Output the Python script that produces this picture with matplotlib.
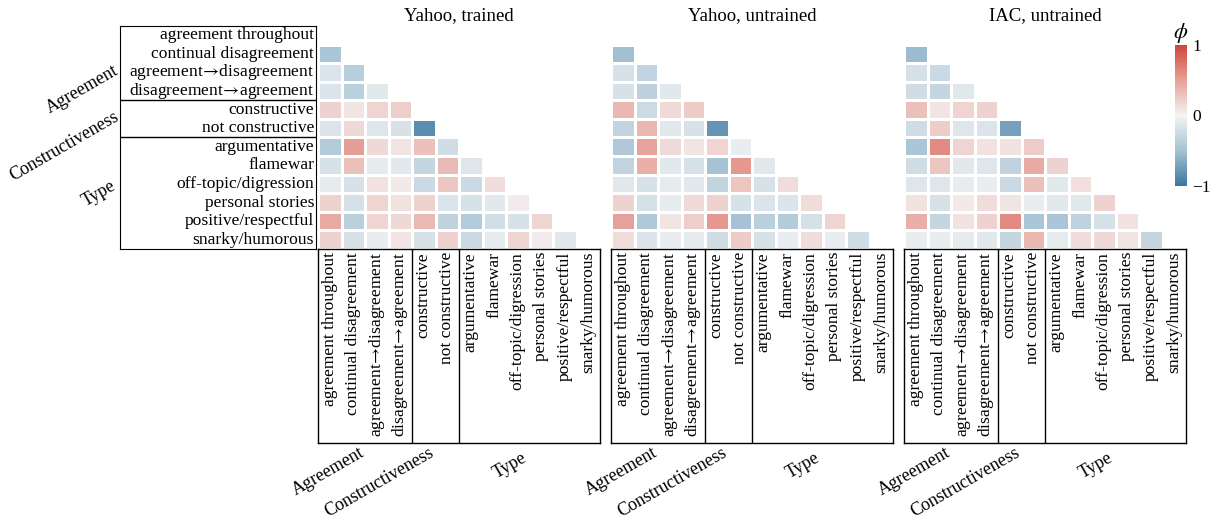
import numpy as np
import matplotlib
matplotlib.use('Agg')
import matplotlib.pyplot as plt
from matplotlib.colors import LinearSegmentedColormap

plt.rcParams['font.family'] = ['Liberation Serif', 'DejaVu Serif']
plt.rcParams['mathtext.fontset'] = 'stix'

arrow = r'$\!\rightarrow\!$'
labels = ['agreement throughout', 'continual disagreement',
          'agreement' + arrow + 'disagreement', 'disagreement' + arrow + 'agreement',
          'constructive', 'not constructive',
          'argumentative', 'flamewar', 'off-topic/digression',
          'personal stories', 'positive/respectful', 'snarky/humorous']
groups = ['Agreement', 'Constructiveness', 'Type']
group_breaks = [4, 6]
titles = ['Yahoo, trained', 'Yahoo, untrained', 'IAC, untrained']

# lower triangle rows (row i has i values), phi coefficients
yahoo_trained = [
    [-0.47],
    [-0.16, -0.38],
    [-0.16, -0.36, -0.11],
    [0.20, 0.09, 0.18, 0.22],
    [-0.16, 0.16, -0.14, -0.19, -0.85],
    [-0.41, 0.51, 0.16, 0.09, 0.30, -0.23],
    [-0.19, 0.30, -0.09, -0.11, -0.30, 0.34, -0.14],
    [-0.09, -0.18, 0.11, 0.07, -0.27, 0.27, -0.27, 0.14],
    [0.20, -0.20, 0.18, 0.11, 0.20, -0.16, -0.19, -0.11, 0.05],
    [0.43, -0.36, 0.18, 0.16, 0.35, -0.34, -0.41, -0.22, -0.18, 0.18],
    [0.20, -0.20, -0.07, 0.09, -0.18, 0.20, -0.27, -0.09, 0.18, 0.05, -0.11],
]
yahoo_untrained = [
    [-0.51],
    [-0.18, -0.32],
    [-0.18, -0.35, -0.11],
    [0.36, -0.26, 0.15, 0.24],
    [-0.32, 0.36, -0.11, -0.19, -0.80],
    [-0.43, 0.47, 0.15, 0.09, 0.19, -0.07],
    [-0.32, 0.41, -0.11, -0.19, -0.50, 0.54, -0.11],
    [-0.12, -0.19, -0.09, -0.11, -0.32, 0.27, -0.19, 0.14],
    [0.20, -0.20, -0.09, 0.15, 0.20, -0.18, -0.16, -0.16, 0.14],
    [0.49, -0.43, 0.09, 0.22, 0.54, -0.50, -0.36, -0.41, -0.20, 0.18],
    [0.14, -0.16, -0.07, -0.09, -0.23, 0.24, -0.19, -0.07, 0.14, -0.07, -0.23],
]
iac_untrained = [
    [-0.54],
    [-0.20, -0.27],
    [-0.23, -0.30, -0.12],
    [0.31, 0.09, 0.19, 0.20],
    [-0.24, 0.23, -0.14, -0.16, -0.72],
    [-0.47, 0.61, 0.18, 0.11, 0.11, 0.23],
    [-0.23, 0.27, -0.11, -0.14, -0.34, 0.43, 0.20],
    [-0.14, -0.14, -0.08, -0.07, -0.27, 0.31, -0.11, 0.12],
    [0.11, -0.18, 0.07, 0.14, 0.09, -0.07, -0.12, -0.12, 0.20],
    [0.41, -0.30, 0.11, 0.20, 0.61, -0.47, -0.47, -0.34, -0.20, 0.11],
    [-0.07, -0.07, -0.09, -0.11, -0.30, 0.36, -0.09, 0.14, 0.16, 0.09, -0.30],
]
panels = [yahoo_trained, yahoo_untrained, iac_untrained]


def to_matrix(rows, n):
    m = np.full((n, n), np.nan)
    for i, r in enumerate(rows, start=1):
        m[i, :len(r)] = r
    return np.ma.masked_invalid(m)


W, H = 1214, 519
n = len(labels)
cmap = LinearSegmentedColormap.from_list(
    'phi', ['#3b76a0', '#a6c2d4', '#f4f4f4', '#e6a098', '#cf4639'])

fig = plt.figure(figsize=(W / 100, H / 100), dpi=100)

def fx(px):
    return px / W

def fy(py):
    return 1 - py / H

top, bot = 26, 249
box_bot = 443
lefts = [318, 611, 904]
pw = 282
fs = 12.6

for k, (data, title) in enumerate(zip(panels, titles)):
    m = to_matrix(data, n)
    ax = fig.add_axes([fx(lefts[k]), fy(bot), fx(pw), (bot - top) / H])
    mesh = ax.pcolormesh(np.arange(n + 1), np.arange(n + 1), m, cmap=cmap,
                         vmin=-1, vmax=1, edgecolors='white', linewidth=1)
    ax.set_xlim(0, n)
    ax.set_ylim(n, 0)
    ax.set_xticks([])
    ax.set_yticks([])
    for s in ax.spines.values():
        s.set_visible(False)
    ax.set_title(title, fontsize=13.5, pad=4)

    # bottom label box
    axb = fig.add_axes([fx(lefts[k]), fy(box_bot), fx(pw), (box_bot - bot) / H])
    axb.set_xlim(0, n)
    axb.set_ylim(0, 1)
    axb.set_xticks([])
    axb.set_yticks([])
    for s in axb.spines.values():
        s.set_linewidth(1)
    for j, lab in enumerate(labels):
        axb.text(j + 0.5, 0.985, lab, rotation=90, ha='center', va='top', fontsize=fs)
    for g in group_breaks:
        axb.axvline(g, color='black', linewidth=1)
    # group names under the box
    gx = [(lefts[k] + 10, 472), (lefts[k] + 61, 482), (lefts[k] + 192, 466)]
    for (x, y), g in zip(gx, groups):
        fig.text(fx(x), fy(y), g, rotation=30, ha='center', va='center', fontsize=13)

# left label box
axl = fig.add_axes([fx(120), fy(bot), fx(196), (bot - top) / H])
axl.set_xlim(0, 1)
axl.set_ylim(n, 0)
axl.set_xticks([])
axl.set_yticks([])
for i, lab in enumerate(labels):
    axl.text(0.99, i + 0.5, lab, ha='right', va='center', fontsize=fs)
for g in group_breaks:
    axl.axhline(g, color='black', linewidth=1)
for (x, y), g in zip([(82, 90), (64, 146), (99, 194)], groups):
    fig.text(fx(x), fy(y), g, rotation=30, ha='center', va='center', fontsize=13)

# colorbar
cax = fig.add_axes([fx(1175), fy(186), fx(12), 141 / H])
cb = fig.colorbar(mesh, cax=cax, ticks=[-1, 0, 1])
cb.outline.set_visible(False)
cb.ax.tick_params(length=0, labelsize=12.5, pad=4)
cb.ax.set_yticklabels(['\u22121', '0', '1'])
cax.set_title(r'$\phi$', fontsize=16, pad=5)

fig.savefig('out.png', dpi=100)
